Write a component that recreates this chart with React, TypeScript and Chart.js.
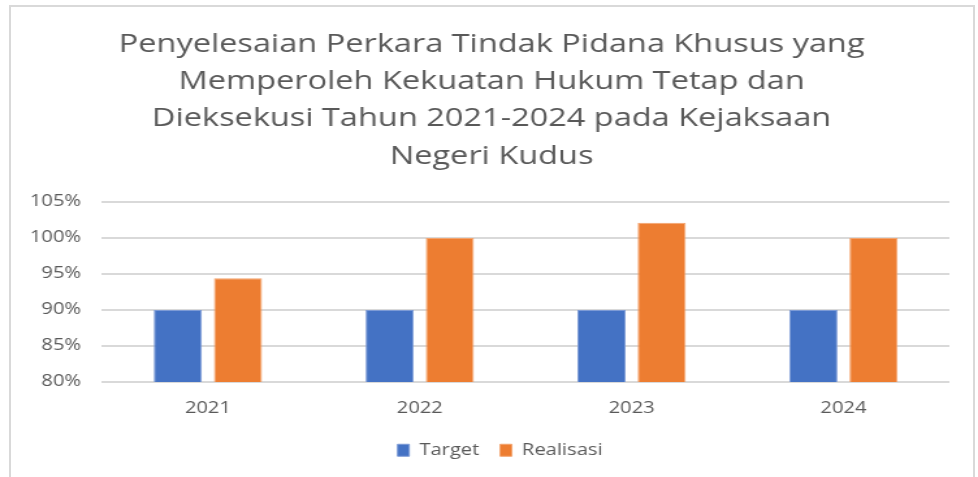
import React, { useEffect, useRef } from "react";
import { Chart, registerables } from "chart.js";

Chart.register(...registerables);

const categories = ["2021", "2022", "2023", "2024"];
const targetValues = [90, 90, 90, 90];
const realisasiValues = [94.4, 100, 102.1, 100];
const seriesNames = ["Target", "Realisasi"];
const titleLines = [
  "Penyelesaian Perkara Tindak Pidana Khusus yang",
  "Memperoleh Kekuatan Hukum Tetap dan",
  "Dieksekusi Tahun 2021-2024 pada Kejaksaan",
  "Negeri Kudus",
];
const yMin = 80;
const yMax = 105;
const yStep = 5;

const STRETCH = 1.3;
const W = 978;
const H = 477;
const CW = Math.round(W / STRETCH);

const boxShift = {
  id: "boxShift",
  afterLayout(chart: any) {
    const l = chart.legend;
    if (l) {
      l.left += 16;
      l.right += 16;
    }
    const t = chart.titleBlock;
    if (t) {
      t.left += 9.5;
      t.right += 9.5;
    }
  },
};

export default function App() {
  const ref = useRef<HTMLCanvasElement | null>(null);
  useEffect(() => {
    if (!ref.current) return;
    const font = "'Open Sans', 'Noto Sans', sans-serif";
    const chart = new Chart(ref.current, {
      type: "bar",
      data: {
        labels: categories,
        datasets: [
          {
            label: seriesNames[0],
            data: targetValues,
            backgroundColor: "#4472C4",
            borderColor: "#7d9bd6",
            borderWidth: 1,
            barPercentage: 0.8,
            categoryPercentage: 0.568,
          },
          {
            label: seriesNames[1],
            data: realisasiValues,
            backgroundColor: "#ED7D31",
            borderColor: "#f3a46f",
            borderWidth: 1,
            barPercentage: 0.8,
            categoryPercentage: 0.568,
          },
        ],
      },
      plugins: [boxShift],
      options: {
        animation: false,
        responsive: false,
        maintainAspectRatio: false,
        devicePixelRatio: 1,
        layout: { padding: { top: 15, left: 7, right: 22, bottom: 9 } },
        plugins: {
          title: {
            display: true,
            text: titleLines,
            color: "#595959",
            font: { family: font, size: 25, weight: "normal", lineHeight: 1.49 },
            padding: { top: 11, bottom: 27 },
          },
          legend: {
            position: "bottom",
            labels: {
              color: "#595959",
              font: { family: font, size: 15.5 },
              boxWidth: 9,
              boxHeight: 12,
              padding: 16,
            },
          },
          tooltip: { enabled: false },
        },
        scales: {
          x: {
            grid: { display: false },
            border: { display: false },
            ticks: { color: "#595959", font: { family: font, size: 15.5 }, padding: 9 },
          },
          y: {
            min: yMin,
            max: yMax,
            ticks: {
              stepSize: yStep,
              color: "#595959",
              font: { family: font, size: 15.5 },
              padding: 16,
              callback: (v: any) => v + "%",
            },
            grid: { color: "#d9d9d9", lineWidth: 2, drawTicks: false },
            border: { display: false },
          },
        },
      },
    });
    return () => chart.destroy();
  }, []);
  return (
    <div style={{ position: "absolute", left: 0, top: 0, width: W, height: H, background: "#fff", overflow: "hidden" }}>
      <div
        style={{
          position: "absolute",
          left: 9,
          top: 5,
          width: 966,
          height: 480,
          border: "2px solid #d9d9d9",
          boxSizing: "border-box",
        }}
      />
      <canvas
        ref={ref}
        width={CW}
        height={H}
        style={{
          position: "absolute",
          left: 0,
          top: 0,
          width: CW,
          height: H,
          transform: `scaleX(${W / CW})`,
          transformOrigin: "0 0",
        }}
      />
    </div>
  );
}
